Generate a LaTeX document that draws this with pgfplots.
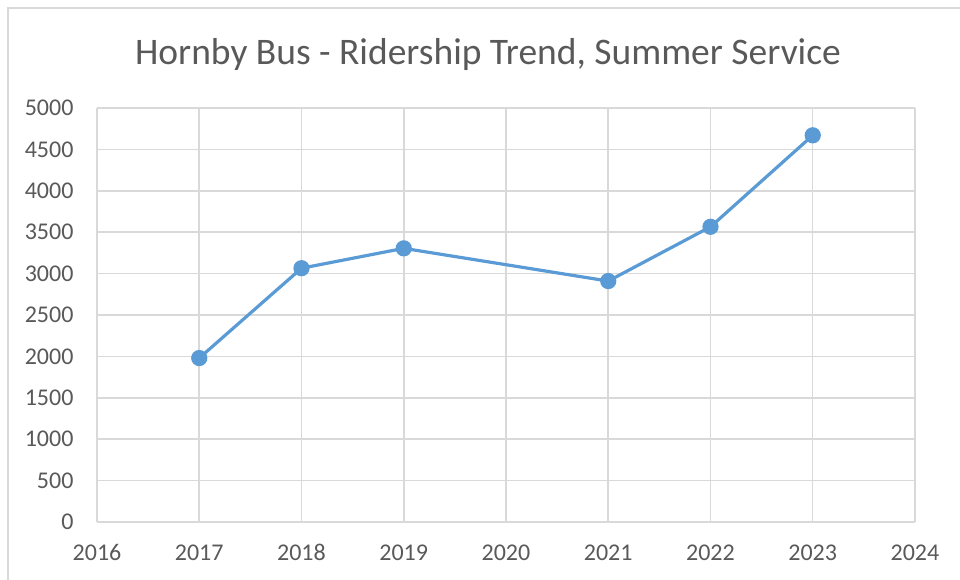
\documentclass[border=0pt]{standalone}
\usepackage{fontspec}
\setmainfont{Carlito}
\usepackage{pgfplots}
\pgfplotsset{compat=1.18}
\definecolor{ser}{HTML}{5B9BD5}
\definecolor{grd}{HTML}{D9D9D9}
\definecolor{txt}{HTML}{595959}
\begin{document}
\begin{tikzpicture}
\path[use as bounding box] (0,0) rectangle (960pt,580pt);
\draw[grd, line width=1.5pt] (8pt,-20pt) -- (8pt,572pt) -- (980pt,572pt);
\node[text=txt, font=\fontsize{37.5}{42}\selectfont] at (488pt,525pt) {Hornby Bus - Ridership Trend, Summer Service};
\begin{axis}[
  at={(97pt,58pt)}, anchor=south west,
  scale only axis, width=818pt, height=414pt,
  xmin=2016, xmax=2024, ymin=0, ymax=5000,
  xtick={2016,...,2024}, ytick={0,500,...,5000},
  /pgf/number format/1000 sep={},
  /pgf/number format/assume math mode=true,
  scaled y ticks=false,
  ticklabel style={font=\fontsize{24}{28}\selectfont, text=txt},
  xticklabel style={yshift=-19pt},
  yticklabel style={xshift=-20pt},
  grid=major, major grid style={grd, line width=1.6pt},
  axis line style={grd, line width=1.6pt},
  axis x line*=bottom, axis y line*=left,
  tick style={draw=none},
]
\addplot[ser, line width=3.2pt, mark=*, mark size=6.5pt, mark options={fill=ser, draw=ser}]
  coordinates {(2017,1980) (2018,3065) (2019,3305) (2021,2910) (2022,3565) (2023,4670)};
\end{axis}
\end{tikzpicture}
\end{document}
